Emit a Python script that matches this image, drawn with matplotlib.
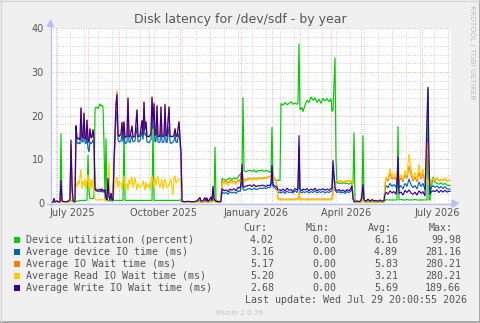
import matplotlib
matplotlib.use("Agg")
import matplotlib.pyplot as plt
import matplotlib.dates as mdates
import matplotlib.transforms as mtransforms
from matplotlib.ticker import MultipleLocator
from matplotlib.patches import Rectangle, Polygon
from matplotlib.lines import Line2D
from datetime import datetime
import numpy as np

# ---------------- data ----------------
start_date = datetime(2025, 6, 25)
span_days = 400

day = [
    0, 2, 3, 4, 6, 8, 9, 10, 11, 13,
    16, 18, 19, 20, 21, 22, 24, 25, 26, 27,
    28, 29, 30, 31, 32, 33, 34, 35, 36, 37,
    38, 39, 40, 41, 42, 43, 44, 45, 47, 49,
    50, 51, 52, 53, 54, 55, 56, 57, 58, 59,
    60, 61, 62, 63, 65, 66, 67, 68, 70, 71,
    72, 73, 74, 76, 77, 78, 79, 81, 82, 84,
    86, 87, 89, 91, 92, 93, 94, 95, 96, 98,
    99, 100, 101, 102, 103, 104, 105, 106, 107, 108,
    109, 110, 111, 112, 113, 114, 115, 116, 118, 119,
    120, 122, 123, 124, 125, 126, 128, 129, 130, 131,
    134, 137, 140, 143, 146, 149, 150, 152, 154, 155,
    156, 157, 159, 160, 161, 162, 163, 164, 165, 167,
    169, 170, 171, 173, 175, 177, 179, 181, 183, 185,
    187, 189, 190, 191, 192, 193, 195, 197, 199, 201,
    203, 205, 207, 209, 211, 213, 215, 217, 219, 220,
    221, 222, 224, 226, 227, 229, 230, 232, 234, 236,
    238, 240, 242, 244, 246, 247, 248, 249, 251, 252,
    254, 256, 258, 260, 262, 264, 266, 268, 270, 272,
    274, 276, 278, 280, 281, 282, 284, 285, 286, 288,
    290, 292, 294, 296, 298, 300, 301, 302, 303, 304,
    306, 308, 310, 311, 312, 313, 315, 317, 319, 321,
    323, 325, 327, 329, 331, 333, 334, 335, 337, 339,
    341, 343, 345, 346, 347, 348, 350, 352, 354, 356,
    358, 360, 362, 364, 366, 368, 370, 372, 374, 376,
    377, 378, 379, 380, 382, 384, 386, 388, 390, 392,
    394, 396, 398, 399,
]

device_util = [
    0.2, 0.2, 0.2, 0.2, 0.2, 0.3, 0.3, 15.9, 0.3, 0.2,
    0.2, 0.3, 0.3, 0.5, 0.5, 0.3, 0.3, 0.4, 0.4, 0.5,
    0.5, 0.5, 0.6, 0.6, 0.6, 0.6, 0.6, 0.6, 0.7, 11.0,
    3.0, 1.0, 1.0, 1.0, 1.0, 1.5, 21.5, 22.0, 21.6, 22.7,
    22.2, 22.4, 22.0, 13.5, 0.5, 14.8, 0.5, 0.5, 0.5, 0.5,
    0.5, 0.5, 0.6, 0.6, 0.6, 0.6, 0.6, 0.6, 0.6, 0.6,
    0.6, 16.0, 0.6, 0.6, 0.6, 0.6, 0.6, 0.6, 0.6, 0.6,
    0.6, 0.6, 0.6, 0.6, 0.6, 0.6, 0.6, 0.6, 0.6, 0.6,
    0.6, 0.6, 0.6, 18.0, 0.6, 0.6, 0.6, 0.6, 0.6, 0.6,
    0.6, 0.6, 0.6, 0.6, 0.6, 0.6, 0.6, 0.6, 0.6, 0.6,
    0.6, 0.6, 0.6, 0.6, 0.6, 0.6, 0.6, 0.7, 0.7, 0.4,
    0.3, 0.3, 0.3, 0.3, 0.3, 0.3, 0.3, 0.3, 0.3, 0.3,
    0.3, 0.3, 0.3, 0.3, 0.3, 0.3, 0.5, 12.9, 0.5, 0.4,
    0.4, 0.5, 5.6, 5.4, 5.2, 5.5, 5.7, 5.3, 5.8, 5.5,
    5.9, 6.5, 6.8, 7.0, 24.2, 7.4, 7.1, 7.4, 7.5, 7.2,
    7.6, 7.0, 7.5, 7.3, 7.6, 7.2, 7.5, 7.3, 7.0, 7.4,
    17.4, 6.0, 5.3, 5.2, 5.2, 5.2, 22.8, 22.4, 23.0, 22.5,
    22.8, 23.2, 22.6, 22.9, 22.6, 22.9, 36.5, 21.3, 21.9, 20.9,
    22.4, 23.5, 23.0, 24.3, 23.5, 24.1, 23.0, 23.8, 22.8, 24.0,
    23.4, 23.9, 23.2, 23.9, 21.0, 21.3, 33.3, 9.8, 4.5, 4.6,
    4.4, 4.6, 4.5, 4.5, 4.3, 4.6, 4.5, 4.4, 16.2, 0.3,
    0.2, 0.2, 0.2, 0.2, 15.5, 0.3, 0.2, 0.2, 0.2, 0.2,
    0.2, 0.2, 0.2, 0.2, 0.2, 0.3, 0.5, 0.8, 0.7, 0.7,
    0.7, 0.7, 0.7, 0.7, 17.6, 0.7, 0.8, 0.7, 0.7, 0.8,
    0.7, 0.7, 0.7, 0.8, 0.7, 0.7, 0.7, 0.7, 0.7, 0.7,
    26.2, 0.7, 0.7, 3.0, 6.0, 4.8, 4.5, 4.3, 4.6, 4.2,
    4.5, 4.1, 4.0, 4.02,
]

device_io = [
    0.1, 0.1, 0.8, 0.1, 0.2, 0.1, 0.2, 4.5, 0.3, 0.2,
    0.2, 0.3, 0.5, 12.5, 3.0, 0.3, 0.2, 16.0, 13.8, 13.6,
    13.8, 13.5, 17.5, 14.0, 14.0, 16.5, 14.0, 13.5, 15.5, 12.5,
    11.7, 14.0, 13.6, 13.8, 14.5, 13.5, 3.0, 2.8, 2.6, 2.7,
    2.5, 2.8, 2.6, 2.4, 2.8, 0.6, 0.5, 5.0, 1.5, 0.5,
    2.0, 0.5, 0.5, 8.0, 20.0, 21.0, 14.5, 14.0, 14.2, 16.0,
    14.0, 16.5, 13.5, 14.0, 19.0, 14.0, 13.8, 15.5, 14.0, 14.2,
    17.5, 14.0, 14.2, 16.5, 14.5, 18.5, 15.5, 16.0, 14.0, 13.8,
    14.2, 14.5, 19.0, 17.0, 18.0, 14.0, 14.2, 17.5, 14.0, 13.8,
    14.0, 17.5, 14.0, 13.8, 14.2, 18.0, 14.0, 13.8, 17.5, 14.0,
    13.6, 14.0, 14.2, 15.5, 14.0, 13.8, 16.0, 14.0, 10.0, 0.3,
    0.2, 0.3, 0.2, 0.2, 0.3, 0.8, 0.2, 0.3, 0.8, 0.3,
    0.8, 0.2, 0.6, 0.8, 0.3, 3.0, 1.0, 0.5, 0.3, 0.2,
    0.2, 0.3, 2.5, 2.2, 2.4, 2.0, 2.6, 2.3, 2.5, 2.2,
    2.8, 2.6, 3.5, 7.0, 3.2, 2.9, 3.0, 3.2, 3.3, 3.0,
    3.4, 3.1, 3.2, 3.4, 3.3, 3.5, 3.3, 3.6, 3.5, 4.0,
    7.0, 3.8, 3.4, 3.0, 2.4, 2.5, 2.3, 2.6, 2.2, 2.7,
    2.4, 2.5, 2.3, 2.8, 2.4, 3.0, 13.0, 2.6, 2.3, 2.6,
    2.4, 2.7, 2.3, 2.6, 2.4, 2.8, 2.3, 2.6, 2.4, 2.7,
    2.3, 2.6, 2.4, 2.7, 2.8, 8.0, 3.0, 2.6, 2.4, 2.6,
    2.3, 2.5, 2.2, 2.6, 2.4, 2.8, 3.5, 1.0, 0.3, 0.2,
    0.3, 0.2, 0.4, 1.5, 3.5, 0.5, 0.3, 0.6, 0.3, 0.5,
    0.3, 0.4, 0.3, 0.5, 0.3, 0.4, 3.0, 4.0, 3.5, 4.5,
    3.8, 4.2, 3.6, 5.0, 8.0, 3.5, 4.0, 3.2, 4.5, 3.8,
    5.5, 4.2, 3.5, 4.0, 3.2, 4.8, 3.8, 4.5, 3.0, 12.0,
    15.0, 8.0, 2.5, 3.5, 4.0, 3.6, 3.9, 3.4, 3.8, 3.3,
    3.7, 3.2, 3.2, 3.16,
]

io_wait = [
    0.1, 0.2, 1.0, 0.2, 0.3, 0.2, 0.3, 5.0, 0.5, 0.3,
    0.3, 0.6, 0.8, 13.5, 4.0, 0.5, 0.3, 17.9, 15.0, 14.8,
    15.0, 14.7, 22.0, 15.3, 15.0, 20.8, 15.0, 14.8, 19.2, 14.5,
    14.0, 17.2, 15.0, 15.2, 16.9, 15.0, 3.4, 3.2, 3.1, 3.2,
    3.0, 3.3, 3.0, 2.8, 3.2, 0.8, 0.6, 5.5, 3.0, 0.8,
    2.3, 0.8, 0.8, 9.5, 23.0, 25.7, 16.0, 15.4, 15.8, 18.6,
    15.3, 18.8, 15.1, 15.4, 24.3, 15.3, 15.2, 17.8, 15.2, 15.3,
    21.5, 15.3, 15.4, 19.0, 15.8, 23.3, 17.0, 18.8, 15.4, 15.3,
    15.5, 16.0, 24.5, 19.0, 23.0, 15.6, 16.0, 22.5, 15.4, 15.3,
    15.5, 22.2, 15.4, 15.3, 15.6, 22.8, 15.6, 15.4, 22.2, 15.5,
    15.3, 15.4, 15.6, 17.2, 15.4, 15.3, 18.8, 15.2, 11.8, 0.4,
    0.3, 0.3, 0.3, 0.3, 0.4, 1.0, 0.4, 0.4, 1.0, 0.4,
    1.0, 0.3, 0.9, 1.0, 0.4, 3.5, 1.2, 0.8, 0.5, 0.4,
    0.3, 0.5, 5.0, 4.8, 5.0, 4.6, 5.2, 4.9, 5.0, 4.7,
    5.3, 5.1, 6.5, 8.0, 5.5, 5.2, 5.4, 5.6, 5.7, 5.4,
    5.8, 5.5, 5.7, 5.8, 5.6, 5.9, 5.7, 6.0, 6.1, 6.3,
    7.0, 6.2, 5.5, 4.0, 1.0, 0.9, 0.9, 0.9, 0.8, 0.9,
    0.9, 0.9, 0.8, 0.9, 0.9, 1.0, 2.5, 1.0, 0.9, 0.9,
    0.9, 0.9, 0.8, 0.9, 0.9, 0.9, 0.9, 0.9, 0.9, 0.9,
    0.9, 0.9, 0.9, 0.9, 1.0, 2.5, 4.5, 4.8, 5.0, 4.8,
    5.1, 4.7, 5.0, 4.9, 5.2, 4.8, 5.0, 1.0, 0.4, 0.3,
    0.4, 0.3, 0.5, 1.8, 4.0, 0.6, 0.4, 0.7, 0.4, 0.6,
    0.4, 0.5, 0.4, 0.6, 0.4, 0.5, 4.0, 5.5, 5.0, 6.8,
    5.5, 6.0, 5.2, 6.5, 8.0, 5.0, 5.8, 4.8, 6.5, 5.6,
    8.5, 6.5, 5.0, 6.0, 4.8, 7.0, 5.5, 6.8, 4.6, 10.0,
    14.0, 7.0, 3.5, 5.0, 5.5, 5.2, 5.6, 5.0, 5.4, 5.1,
    5.5, 5.0, 5.2, 5.17,
]

read_wait = [
    0.1, 0.1, 0.2, 0.1, 0.1, 0.1, 0.2, 0.5, 0.2, 0.1,
    0.1, 0.2, 0.4, 1.5, 1.5, 0.3, 0.2, 4.5, 3.8, 5.0,
    4.2, 6.0, 7.8, 3.2, 5.0, 4.0, 5.5, 3.2, 4.8, 6.5,
    3.5, 5.5, 3.0, 5.5, 3.5, 4.2, 0.8, 0.7, 0.7, 0.8,
    0.7, 0.8, 0.7, 0.7, 0.8, 0.5, 0.5, 2.0, 9.4, 1.0,
    0.8, 0.7, 0.7, 3.0, 5.5, 5.9, 3.5, 5.0, 4.5, 3.0,
    5.5, 6.2, 3.2, 4.5, 2.8, 5.5, 4.2, 6.0, 3.5, 5.8,
    2.9, 4.5, 3.5, 4.0, 5.2, 4.0, 2.9, 4.8, 3.5, 4.5,
    3.0, 5.0, 6.2, 5.0, 3.5, 6.0, 4.0, 5.5, 6.2, 4.5,
    3.5, 4.5, 5.5, 3.2, 4.0, 5.5, 4.5, 3.5, 4.0, 5.0,
    5.5, 1.8, 6.0, 6.2, 4.5, 5.0, 5.5, 5.5, 4.0, 0.3,
    0.2, 0.2, 0.2, 0.2, 0.2, 0.3, 0.2, 0.2, 0.3, 0.2,
    0.3, 0.2, 0.3, 0.3, 0.2, 0.5, 0.4, 0.3, 0.2, 0.2,
    0.2, 0.3, 4.6, 4.3, 4.6, 4.0, 5.0, 4.4, 4.8, 4.2,
    5.0, 4.7, 5.5, 5.0, 5.0, 4.8, 5.1, 5.4, 5.5, 5.2,
    5.6, 5.3, 5.5, 5.6, 5.4, 5.7, 5.5, 5.8, 6.0, 6.2,
    6.3, 6.0, 5.5, 3.5, 0.7, 0.7, 0.7, 0.7, 0.7, 0.7,
    0.7, 0.7, 0.7, 0.7, 0.7, 0.8, 2.2, 0.8, 0.7, 0.7,
    0.7, 0.7, 0.7, 0.7, 0.7, 0.7, 0.7, 0.7, 0.7, 0.7,
    0.7, 0.7, 0.7, 0.7, 0.8, 1.5, 4.9, 5.0, 5.1, 4.9,
    5.2, 4.8, 5.1, 5.0, 5.3, 4.9, 5.2, 1.0, 0.3, 0.2,
    0.2, 0.2, 0.2, 0.4, 0.8, 0.3, 0.2, 0.2, 0.2, 0.2,
    0.2, 0.2, 0.2, 0.2, 0.2, 0.2, 4.5, 6.0, 5.5, 7.9,
    6.0, 6.8, 5.8, 7.0, 6.5, 5.5, 6.5, 5.2, 7.5, 6.2,
    11.2, 7.8, 5.5, 7.0, 5.4, 8.9, 6.0, 7.8, 5.0, 5.5,
    5.0, 4.0, 4.0, 5.2, 5.6, 5.4, 5.8, 5.1, 5.5, 5.2,
    5.6, 5.1, 5.2, 5.20,
]

write_wait = [
    0.1, 0.2, 1.1, 0.2, 0.5, 0.2, 0.3, 5.3, 0.5, 0.3,
    0.3, 0.6, 0.8, 14.5, 4.5, 0.5, 0.3, 17.6, 14.9, 14.6,
    14.8, 14.5, 21.8, 15.2, 14.9, 20.6, 14.8, 14.6, 19.0, 14.4,
    13.9, 17.0, 14.9, 15.0, 16.8, 14.8, 3.2, 3.0, 2.9, 3.1,
    2.8, 3.2, 2.9, 2.7, 3.1, 1.3, 0.7, 5.7, 1.5, 0.7,
    2.3, 0.7, 0.7, 9.5, 22.5, 24.9, 15.8, 15.2, 15.8, 18.5,
    15.2, 18.6, 15.0, 15.3, 24.0, 15.2, 15.1, 17.6, 15.1, 15.2,
    21.3, 15.2, 15.3, 18.9, 15.6, 23.1, 16.8, 18.6, 15.2, 15.2,
    15.4, 16.0, 24.2, 18.0, 22.8, 15.5, 15.8, 22.3, 15.3, 15.2,
    15.4, 22.0, 15.3, 15.2, 15.5, 22.6, 15.5, 15.3, 22.0, 15.3,
    15.2, 15.2, 15.5, 17.0, 15.3, 15.2, 18.6, 15.0, 11.5, 0.4,
    0.3, 0.4, 0.3, 0.3, 0.5, 1.3, 0.4, 0.5, 1.3, 0.4,
    1.2, 0.3, 1.0, 1.4, 0.5, 3.9, 1.0, 0.6, 0.4, 0.3,
    0.3, 0.4, 3.3, 2.8, 3.0, 2.6, 3.2, 2.9, 3.3, 2.8,
    3.6, 3.4, 4.5, 8.9, 3.8, 3.6, 3.9, 4.0, 4.1, 3.8,
    4.2, 3.7, 4.0, 3.9, 4.1, 4.0, 3.8, 4.1, 4.0, 4.5,
    8.7, 4.2, 3.9, 3.6, 3.0, 3.0, 2.8, 3.2, 2.7, 3.4,
    2.9, 3.1, 2.6, 3.3, 3.0, 3.5, 15.5, 3.2, 2.8, 3.2,
    3.0, 3.3, 2.8, 3.2, 2.9, 3.4, 2.8, 3.1, 3.0, 3.3,
    2.9, 3.2, 2.9, 3.3, 3.4, 9.8, 3.5, 3.0, 2.8, 3.1,
    2.7, 3.0, 2.6, 3.1, 2.8, 3.4, 4.0, 1.0, 0.4, 0.3,
    0.5, 0.3, 0.6, 2.0, 4.3, 0.7, 0.4, 0.9, 0.4, 0.8,
    0.5, 0.6, 0.4, 0.7, 0.4, 0.5, 2.0, 2.5, 2.0, 2.8,
    2.3, 2.6, 2.0, 4.0, 10.6, 2.2, 2.5, 1.8, 2.9, 2.4,
    3.0, 2.3, 2.0, 2.5, 1.8, 2.8, 2.2, 2.6, 1.6, 19.7,
    26.6, 10.0, 2.0, 2.5, 2.8, 2.6, 3.0, 2.4, 2.9, 2.5,
    2.9, 2.5, 2.7, 2.68,
]

series_values = [device_util, device_io, io_wait, read_wait, write_wait]
series_labels = [
    "Device utilization (percent)",
    "Average device IO time (ms)",
    "Average IO Wait time (ms)",
    "Average Read IO Wait time (ms)",
    "Average Write IO Wait time (ms)",
]
series_colors = ["#00CC00", "#0066B3", "#FF8000", "#FFCC00", "#330099"]

cur_vals = [4.02, 3.16, 5.17, 5.20, 2.68]
min_vals = [0.00, 0.00, 0.00, 0.00, 0.00]
avg_vals = [6.16, 4.89, 5.83, 3.21, 5.69]
max_vals = [99.98, 281.16, 280.21, 280.21, 189.66]

tick_label_dates = ["2025-07-16", "2025-10-16", "2026-01-16", "2026-04-16", "2026-07-16"]
tick_labels = ["July 2025", "October 2025", "January 2026", "April 2026", "July 2026"]

title = "Disk latency for /dev/sdf - by year"
last_update = "Last update: Wed Jul 29 20:00:55 2026"
footer = "Munin 2.0.76"
watermark = "RRDTOOL / TOBI OETIKER"

# ---------------- layout ----------------
W, H = 481, 323
FONT = "#555555"
AXIS_C = "#B8C0F0"
fig = plt.figure(figsize=(W / 100, H / 100), dpi=100, facecolor="#F0F0F0")


def fx(x):
    return x / W


def fy(y):
    return 1 - y / H


L, R, T, B = 51, 451, 28.3, 203
ax = fig.add_axes([fx(L), fy(B), (R - L) / W, (B - T) / H])
ax.set_facecolor("white")

t0 = mdates.date2num(start_date)
xs = t0 + np.array(day, dtype=float)

for vals, col in zip(series_values, series_colors):
    ax.plot(xs, vals, color=col, lw=0.85, solid_joinstyle="miter", zorder=3)

ax.set_xlim(t0, t0 + span_days)
ax.set_ylim(0, 40)

# grid
ax.xaxis.set_major_locator(mdates.MonthLocator())
ax.xaxis.set_minor_locator(mdates.RRuleLocator(
    mdates.rrulewrapper(mdates.WEEKLY, interval=2, dtstart=datetime(2025, 7, 5, 8))))
ax.yaxis.set_major_locator(MultipleLocator(10))
ax.yaxis.set_minor_locator(MultipleLocator(2))
ax.set_axisbelow(True)
ax.grid(True, which="minor", color="#D2D2D2", lw=0.72, linestyle=(0, (1, 1.3)))
ax.grid(True, which="major", color="#EDB4B4", lw=0.72, linestyle=(0, (1, 1.3)))

ax.tick_params(axis="x", which="both", length=0, labelbottom=False)
ax.tick_params(axis="y", which="both", length=0, pad=5, labelsize=7, labelcolor=FONT)
for s in ax.spines.values():
    s.set_visible(False)

# x labels
xlab_tr = mtransforms.blended_transform_factory(ax.transData, fig.transFigure)
for d, lab in zip(tick_label_dates, tick_labels):
    xd = mdates.date2num(datetime.strptime(d, "%Y-%m-%d"))
    ax.text(xd, fy(216.5), lab, transform=xlab_tr,
            ha="center", va="baseline", fontsize=7, color=FONT)

# axis lines + arrows
fig.add_artist(Line2D([fx(L - 0.5), fx(L - 0.5)], [fy(B + 3), fy(25)], color=AXIS_C, lw=0.9))
fig.add_artist(Line2D([fx(L - 4), fx(453)], [fy(B + 0.5), fy(B + 0.5)], color=AXIS_C, lw=0.9))
fig.add_artist(Polygon([[fx(47.5), fy(26.5)], [fx(53.5), fy(26.5)], [fx(50.5), fy(20)]],
                       closed=True, color=AXIS_C, transform=fig.transFigure))
fig.add_artist(Polygon([[fx(452), fy(200)], [fx(452), fy(207)], [fx(458.5), fy(203.5)]],
                       closed=True, color=AXIS_C, transform=fig.transFigure))

# title
fig.text(fx(240), fy(22.5), title, ha="center", va="baseline", fontsize=9, color=FONT)
# watermark
fig.text(fx(472.5), fy(5), watermark, rotation=270, ha="center", va="top",
         fontsize=5.3, color="#BDBDBD")

# legend
mono = "DejaVu Sans Mono"
fs = 7.2
hdr_base = 231
for txt, xr in zip(["Cur:", "Min:", "Avg:", "Max:"], [267, 330, 392, 453]):
    fig.text(fx(xr), fy(hdr_base), txt, ha="right", va="baseline", fontsize=fs,
             family=mono, color=FONT)
for i, (lab, col) in enumerate(zip(series_labels, series_colors)):
    base = 243 + 12 * i
    fig.add_artist(Rectangle((fx(14), fy(base)), 6 / W, 6 / H, facecolor=col,
                             edgecolor="none", transform=fig.transFigure))
    fig.text(fx(26), fy(base), lab, ha="left", va="baseline", fontsize=fs,
             family=mono, color=FONT)
    for v, xr in zip([cur_vals[i], min_vals[i], avg_vals[i], max_vals[i]],
                     [274, 336, 398, 461]):
        fig.text(fx(xr), fy(base), f"{v:.2f}", ha="right", va="baseline",
                 fontsize=fs, family=mono, color=FONT)

fig.text(fx(245), fy(303), last_update, ha="left", va="baseline", fontsize=fs,
         family=mono, color=FONT)
fig.text(fx(240), fy(315), footer, ha="center", va="baseline", fontsize=5.2,
         color="#C4C4C4")

# frame shading
fig.add_artist(Line2D([0, 1], [fy(322), fy(322)], color="#A8A8A8", lw=1.4))
fig.add_artist(Line2D([fx(480), fx(480)], [0, 1], color="#A8A8A8", lw=1.4))
fig.add_artist(Line2D([0, 1], [fy(0.5), fy(0.5)], color="#D6D6D6", lw=1.0))
fig.add_artist(Line2D([fx(0.5), fx(0.5)], [0, 1], color="#D6D6D6", lw=1.0))

fig.savefig("out.png", dpi=100, facecolor=fig.get_facecolor())
